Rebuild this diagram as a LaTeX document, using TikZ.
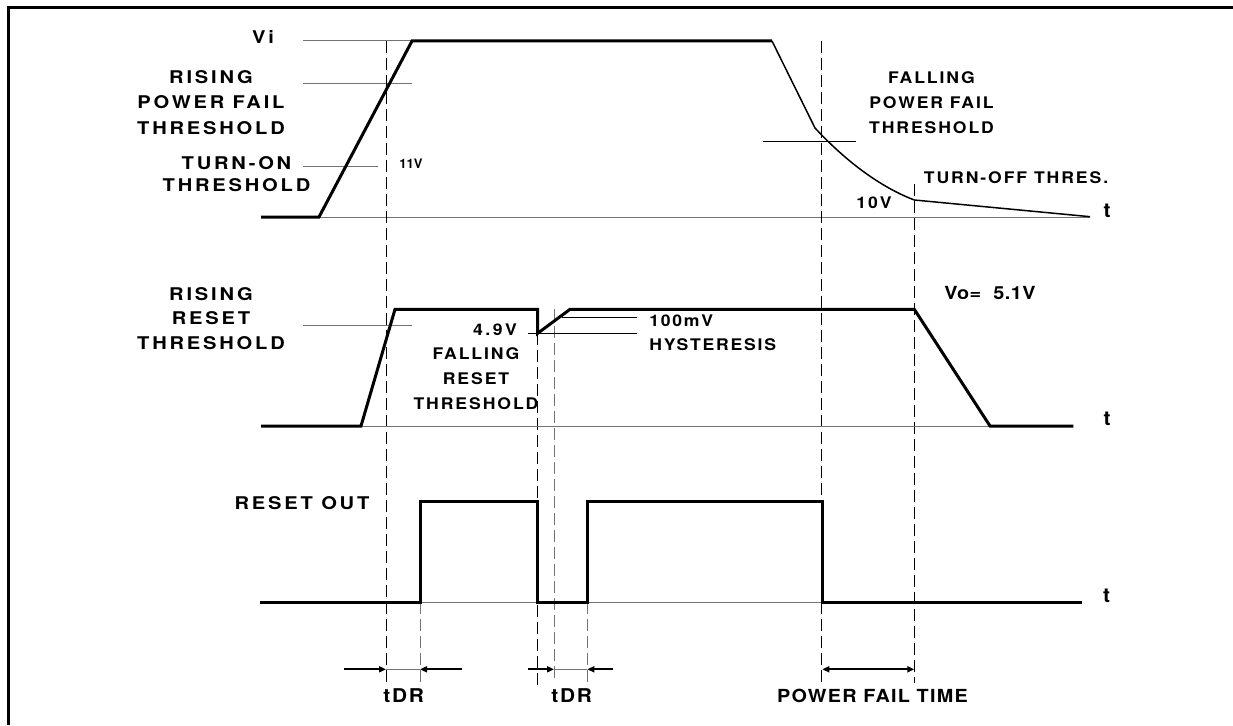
\documentclass[tikz,border=0pt]{standalone}
\usepackage{fontspec}
\setmainfont{TeX Gyre Heros}
\usetikzlibrary{arrows.meta}
\newcommand{\tk}[4]{\fontsize{#1}{#2}\selectfont\bfseries\addfontfeature{FakeStretch=#3,LetterSpace=#4}}
\tikzset{
  wave/.style={line width=3pt, line join=miter},
  med/.style={line width=1.5pt},
  gl/.style={line width=1pt, draw=black!55},
  bl/.style={line width=1pt, draw=black},
  dsh/.style={line width=1pt, draw=black, dash pattern=on 12pt off 5pt},
  dshg/.style={line width=1pt, draw=black!55, dash pattern=on 12pt off 5pt},
  arr/.style={line width=2pt, -{Triangle[length=7pt,width=6pt]}},
  arrb/.style={line width=2pt, {Triangle[length=7pt,width=6pt]}-{Triangle[length=7pt,width=6pt]}},
  txt/.style={inner sep=0pt, outer sep=0pt, align=center},
  lblA/.style={txt, font={\tk{17.5}{25.5}{1.15}{16}}},
  lblB/.style={txt, font={\tk{16}{25}{1.1}{12}}},
  tlab/.style={txt, font={\tk{20}{20}{1.05}{0}}},
}
\begin{document}
\begin{tikzpicture}[x=1pt,y=-1pt]
\useasboundingbox (0,0) rectangle (1233,725);
% frame
\draw[line width=2.5pt] (8.3,725) -- (8.3,7.5) -- (1233,7.5);

% ---------- Vi panel ----------
\draw[gl] (303,41) -- (412,41);
\draw[gl] (303,83) -- (412,83);
\draw[gl] (303,166) -- (378,166);
\draw[gl] (319,217) -- (1090,217);
\draw[wave] (261,217) -- (319,217) -- (412,41) -- (772,41);
\draw[med] (772,41) -- (815,128) .. controls (840,155) and (875,185) .. (914.3,200) -- (1090,216.7);
\draw[bl] (763,141.7) -- (855.7,141.7);

% dashed time markers
\draw[dsh] (386,41) -- (386,683);
\draw[dshg] (420,602) -- (420,683);
\draw[dsh] (537.7,333) -- (537.7,686);
\draw[dshg] (554,309) -- (554,683);
\draw[dshg] (587.3,602) -- (587.3,683);
\draw[dsh] (821.7,41) -- (821.7,683);
\draw[dsh] (914.3,184) -- (914.3,683);

% ---------- Vo panel ----------
\draw[gl] (303,325.7) -- (411.7,325.7);
\draw[gl] (361,426) -- (990,426);
\draw[wave] (261,426) -- (361,426) -- (395,309.3) -- (537.7,309.3) -- (537.7,333.3) -- (570,309.3) -- (914.3,309.3) -- (990,426) -- (1073.3,426);
\draw[bl] (528,333.3) -- (637,333.3);
\draw[bl] (561.7,317.3) -- (637,317.3);

% ---------- Reset out panel ----------
\draw[gl] (420,602.3) -- (822.3,602.3);
\draw[wave] (260,602.3) -- (420,602.3) -- (420,501.7) -- (537.7,501.7) -- (537.7,602.3) -- (587.3,602.3) -- (587.3,501.7) -- (822.3,501.7) -- (822.3,602.3) -- (1082.3,602.3);

% timing arrows
\draw[arr] (344,669.3) -- (386,669.3);
\draw[gl] (386,669.3) -- (420,669.3);
\draw[arr] (462.3,669.3) -- (420,669.3);
\draw[arr] (528.3,669.3) -- (554,669.3);
\draw[gl] (554,669.3) -- (587.3,669.3);
\draw[arr] (613.3,669.3) -- (587.3,669.3);
\draw[arrb] (822.3,669.3) -- (914.3,669.3);

% ---------- labels ----------
\node[lblA, anchor=east] (vi) at (274,36.5) {Vi};
\node[lblA] (rpf) at (211,102.5) {RISING\\POWER FAIL\\THRESHOLD};
\node[txt, font={\tk{17.5}{22}{1.15}{16}}] (ton) at (236.5,174) {TURN-ON\\THRESHOLD};
\node[txt, font={\tk{13}{13}{1}{0}}] (v11) at (411,163.8) {11V};
\node[lblB] (fpf) at (931.5,102.6) {FALLING\\POWER FAIL\\THRESHOLD};
\node[lblB] (toff) at (1016,177.8) {TURN-OFF THRES.};
\node[lblB] (v10) at (874,203) {10V};
\node[tlab] (t1) at (1107,211) {t};

\node[txt, font={\tk{17.5}{24.5}{1.15}{16}}] (rrt) at (211,318.5) {RISING\\RESET\\THRESHOLD};
\node[txt, font={\tk{16}{16}{1.1}{16}}] (v49) at (495,329.3) {4.9V};
\node[lblB] (frt) at (476,378.6) {FALLING\\RESET\\THRESHOLD};
\node[txt, font={\tk{16}{24.5}{1.1}{11}}, anchor=west, align=left] (hys) at (649.3,332.7) {100mV\\HYSTERESIS};
\node[txt, font={\tk{18}{18}{1.1}{3}}] (vo) at (990,293.3) {Vo=\ \ 5.1V};
\node[tlab] (t2) at (1107,419) {t};

\node[lblA] (ro) at (302,503) {RESET OUT};
\node[tlab] (t3) at (1106.7,595.3) {t};
\node[txt, font={\tk{19}{19}{1.1}{9}}] (tdr1) at (403.7,696) {tDR};
\node[txt, font={\tk{19}{19}{1.1}{9}}] (tdr2) at (571.7,696) {tDR};
\node[txt, font={\tk{18}{18}{1.1}{7}}] (pft) at (872.5,696) {POWER FAIL TIME};
\end{tikzpicture}
\end{document}
